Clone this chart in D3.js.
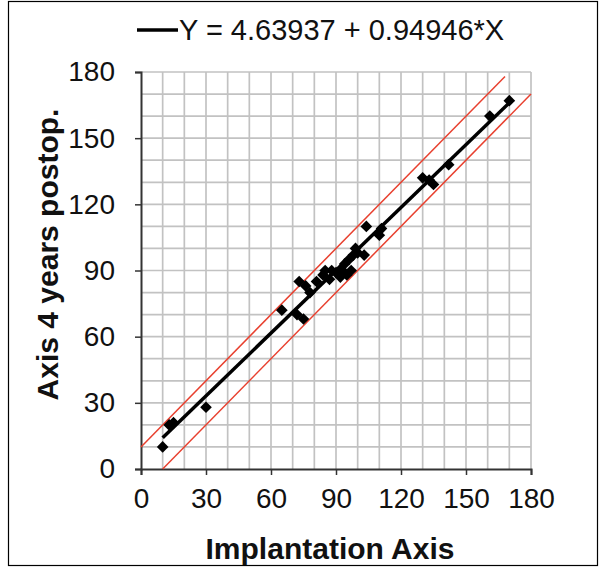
<!DOCTYPE html>
<html>
<head>
<meta charset="utf-8">
<script src="https://cdn.jsdelivr.net/npm/d3@7"></script>
<style>
  body { margin: 0; background: #fff; }
  svg { display: block; font-family: "Liberation Sans", Arial, sans-serif; }
</style>
</head>
<body>
<div id="chart"></div>
<script>
// measured axis values (implantation vs 4 years postop)
const implantAxis = [10, 13, 15, 30, 65, 72, 75, 73, 76, 78, 81, 84, 85, 87, 88, 90, 92, 93, 94, 95, 96, 97, 98, 99, 100, 103, 104, 110, 111, 130, 133, 135, 142, 161, 170];
const postopAxis  = [10, 20, 21, 28, 72, 70, 68, 85, 83, 80, 85, 88, 90, 86, 90, 89, 87, 90, 93, 88, 95, 90, 97, 100, 98, 97, 110, 106, 109, 132, 131, 129, 138, 160, 167];

// regression Y = a + b*X
const intercept = 4.63937;
const slope = 0.94946;
const fitRange = [10, 171];

// red band lines Y = X +/- 10
const bandOffsets = [10, -10];
const bandRanges = [[0, 168], [10, 180]];

const ticks = [0, 30, 60, 90, 120, 150, 180];
const gridTicks = d3.range(0, 181, 10);

const W = 606, H = 573;
const margin = {top: 72, right: 75, bottom: 104, left: 141};
const width = W - margin.left - margin.right;
const height = H - margin.top - margin.bottom;

const svg = d3.select("#chart").append("svg")
    .attr("width", W)
    .attr("height", H);

// outer frame
svg.append("rect")
    .attr("x", 8.5).attr("y", 1.5)
    .attr("width", 589).attr("height", 564)
    .attr("fill", "none")
    .attr("stroke", "#000")
    .attr("stroke-width", 1.2);

const g = svg.append("g")
    .attr("transform", `translate(${margin.left},${margin.top})`);

const x = d3.scaleLinear().domain([0, 180]).range([0, width]);
const y = d3.scaleLinear().domain([0, 180]).range([height, 0]);

// grid
g.append("g").selectAll("line.v")
    .data(gridTicks.slice(1))
    .enter().append("line")
    .attr("x1", d => x(d)).attr("x2", d => x(d))
    .attr("y1", 0).attr("y2", height)
    .attr("stroke", "#c2c2c2")
    .attr("stroke-width", 1.7);

g.append("g").selectAll("line.h")
    .data(gridTicks.slice(1))
    .enter().append("line")
    .attr("x1", 0).attr("x2", width)
    .attr("y1", d => y(d)).attr("y2", d => y(d))
    .attr("stroke", "#c2c2c2")
    .attr("stroke-width", 1.7);

// axes
const xAxis = g.append("g")
    .attr("transform", `translate(0,${height})`)
    .call(d3.axisBottom(x).tickValues(ticks).tickSize(6).tickPadding(14));
const yAxis = g.append("g")
    .call(d3.axisLeft(y).tickValues(ticks).tickSize(6).tickPadding(20));

[xAxis, yAxis].forEach(a => {
    a.select(".domain").attr("stroke", "#333").attr("stroke-width", 2);
    a.selectAll(".tick line").attr("stroke", "#333").attr("stroke-width", 1.5);
    a.selectAll(".tick text")
        .attr("fill", "#111")
        .style("font-size", "28px")
        .style("font-family", "Liberation Sans, Arial, sans-serif");
});
xAxis.selectAll(".tick text").attr("dy", "0.68em");

// red band lines
const line = d3.line().x(d => x(d[0])).y(d => y(d[1]));
bandOffsets.forEach((off, i) => {
    const r = bandRanges[i];
    g.append("path")
        .datum([[r[0], r[0] + off], [r[1], r[1] + off]])
        .attr("d", line)
        .attr("fill", "none")
        .attr("stroke", "#e8402f")
        .attr("stroke-width", 1.5);
});

// regression line
g.append("path")
    .datum(fitRange.map(v => [v, intercept + slope * v]))
    .attr("d", line)
    .attr("fill", "none")
    .attr("stroke", "#000")
    .attr("stroke-width", 3.5);

// points
const diamond = d3.symbol().type(d3.symbolSquare).size(68);
g.append("g").selectAll("path")
    .data(implantAxis.map((v, i) => [v, postopAxis[i]]))
    .enter().append("path")
    .attr("d", diamond)
    .attr("transform", d => `translate(${x(d[0])},${y(d[1])}) rotate(45)`)
    .attr("fill", "#000");

// axis titles
svg.append("text")
    .attr("x", 330)
    .attr("y", 559)
    .attr("text-anchor", "middle")
    .style("font-size", "30px")
    .style("font-weight", "bold")
    .attr("fill", "#111")
    .text("Implantation Axis");

svg.append("text")
    .attr("transform", `translate(58,${margin.top + height / 2 - 16}) rotate(-90)`)
    .attr("text-anchor", "middle")
    .style("font-size", "30px")
    .style("font-weight", "bold")
    .attr("fill", "#111")
    .text("Axis 4 years postop.");

// legend
svg.append("line")
    .attr("x1", 137).attr("x2", 178)
    .attr("y1", 30).attr("y2", 30)
    .attr("stroke", "#000")
    .attr("stroke-width", 3.5);
svg.append("text")
    .attr("x", 179)
    .attr("y", 40)
    .style("font-size", "29px")
    .attr("fill", "#111")
    .text("Y = 4.63937 + 0.94946*X");
</script>
</body>
</html>
